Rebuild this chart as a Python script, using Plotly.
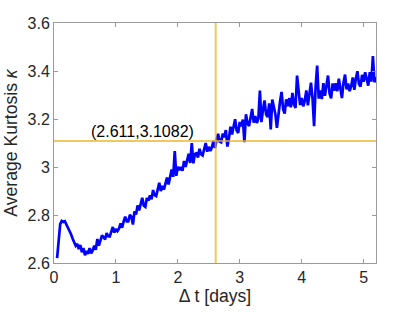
import plotly.graph_objects as go

# ---- data ----
t_start = 0.05
t_step = 0.025
kurtosis = [
    2.62, 2.70, 2.762, 2.775, 2.771, 2.774, 2.762, 2.748, 2.735, 2.72,
    2.702, 2.686, 2.672, 2.680, 2.658, 2.675, 2.645, 2.662, 2.632, 2.65,
    2.638, 2.662, 2.64, 2.652, 2.672, 2.655, 2.70, 2.672, 2.69, 2.715,
    2.708, 2.698, 2.725, 2.711, 2.710, 2.731, 2.750, 2.727, 2.742, 2.733,
    2.744, 2.765, 2.747, 2.773, 2.793, 2.773, 2.773, 2.801, 2.793, 2.76,
    2.815, 2.802, 2.840, 2.819, 2.845, 2.872, 2.839, 2.834, 2.871, 2.860,
    2.882, 2.866, 2.904, 2.883, 2.879, 2.908, 2.934, 2.900, 2.921, 2.906,
    2.927, 2.956, 2.927, 2.963, 2.989, 2.959, 3.066, 2.963, 3.001, 2.987,
    3.000, 2.984, 3.025, 3.000, 3.027, 3.055, 3.017, 3.100, 3.015, 3.054,
    3.057, 3.039, 3.076, 3.053, 3.048, 3.075, 3.100, 3.064, 3.084, 3.067,
    3.082, 3.109, 3.079, 3.113, 3.138, 3.106, 3.103, 3.139, 3.124, 3.154,
    3.085, 3.120, 3.168, 3.136, 3.167, 3.199, 3.152, 3.142, 3.188, 3.170,
    3.198, 3.103, 3.220, 3.182, 3.171, 3.209, 3.242, 3.185, 3.212, 3.183,
    3.201, 3.318, 3.187, 3.240, 3.277, 3.219, 3.208, 3.265, 3.157, 3.281,
    3.254, 3.220, 3.163, 3.233, 3.272, 3.313, 3.241, 3.223, 3.282, 3.253,
    3.287, 3.249, 3.309, 3.262, 3.246, 3.381, 3.328, 3.258, 3.287, 3.253,
    3.276, 3.319, 3.257, 3.313, 3.351, 3.287, 3.170, 3.334, 3.423, 3.285,
    3.319, 3.283, 3.349, 3.297, 3.339, 3.381, 3.306, 3.286, 3.348, 3.318,
    3.349, 3.316, 3.368, 3.327, 3.287, 3.351, 3.385, 3.323, 3.348, 3.316,
    3.338, 3.373, 3.322, 3.368, 3.399, 3.346, 3.335, 3.384, 3.355, 3.395,
    3.370, 3.339, 3.395, 3.356, 3.462, 3.353, 3.375,
]
delta_t = [round(t_start + i * t_step, 4) for i in range(len(kurtosis))]

marker_x = 2.611
marker_y = 3.1082
marker_label = "(2.611,3.1082)"
label_x = 1.424

x_ticks = [0, 1, 2, 3, 4, 5]
y_ticks = [2.6, 2.8, 3.0, 3.2, 3.4, 3.6]
y_tick_text = ["2.6", "2.8", "3", "3.2", "3.4", "3.6"]

FONT = "Liberation Sans, Arial, Helvetica, sans-serif"
AX = "#9a9a9a"
TXT = "#262626"
ORANGE = "rgba(237,177,32,0.72)"

fig = go.Figure()
fig.add_trace(go.Scatter(
    x=delta_t, y=kurtosis, mode="lines",
    line=dict(color="#0000ff", width=2.7),
    showlegend=False, hoverinfo="skip",
))

fig.add_shape(type="line", xref="x", yref="paper", x0=marker_x, x1=marker_x,
              y0=0, y1=1, line=dict(color=ORANGE, width=2), layer="above")
fig.add_shape(type="line", xref="paper", yref="y", x0=0, x1=1,
              y0=marker_y, y1=marker_y, line=dict(color=ORANGE, width=2), layer="above")

fig.add_annotation(x=label_x, y=marker_y, text=marker_label, showarrow=False,
                   xanchor="center", yanchor="bottom", yshift=-1,
                   font=dict(family=FONT, size=16, color="#000000"))

axis_common = dict(
    showgrid=False, zeroline=False, showline=True, linecolor=AX, linewidth=1,
    mirror="ticks", ticks="inside", ticklen=4, tickcolor=AX, tickwidth=1,
    tickfont=dict(family=FONT, size=16, color=TXT), automargin=False,
)

fig.update_xaxes(range=[0, 5.2], tickvals=x_ticks, ticktext=[str(v) for v in x_ticks],
                 title=dict(text="Δ t [days]", font=dict(family=FONT, size=17.6, color=TXT),
                            standoff=4),
                 **axis_common)
fig.update_yaxes(range=[2.6, 3.6], tickvals=y_ticks, ticktext=y_tick_text,
                 title=dict(text="Average Kurtosis <i>κ</i>",
                            font=dict(family=FONT, size=17.6, color=TXT), standoff=5),
                 **axis_common)

fig.update_layout(
    width=415, height=312,
    margin=dict(l=54, r=39, t=23, b=49),
    paper_bgcolor="white", plot_bgcolor="white",
    font=dict(family=FONT, color=TXT),
)

fig.write_html(
    "out.html",
    config={"displayModeBar": False, "staticPlot": True},
    post_script="document.body.style.margin='0';document.body.style.overflow='hidden';",
)
